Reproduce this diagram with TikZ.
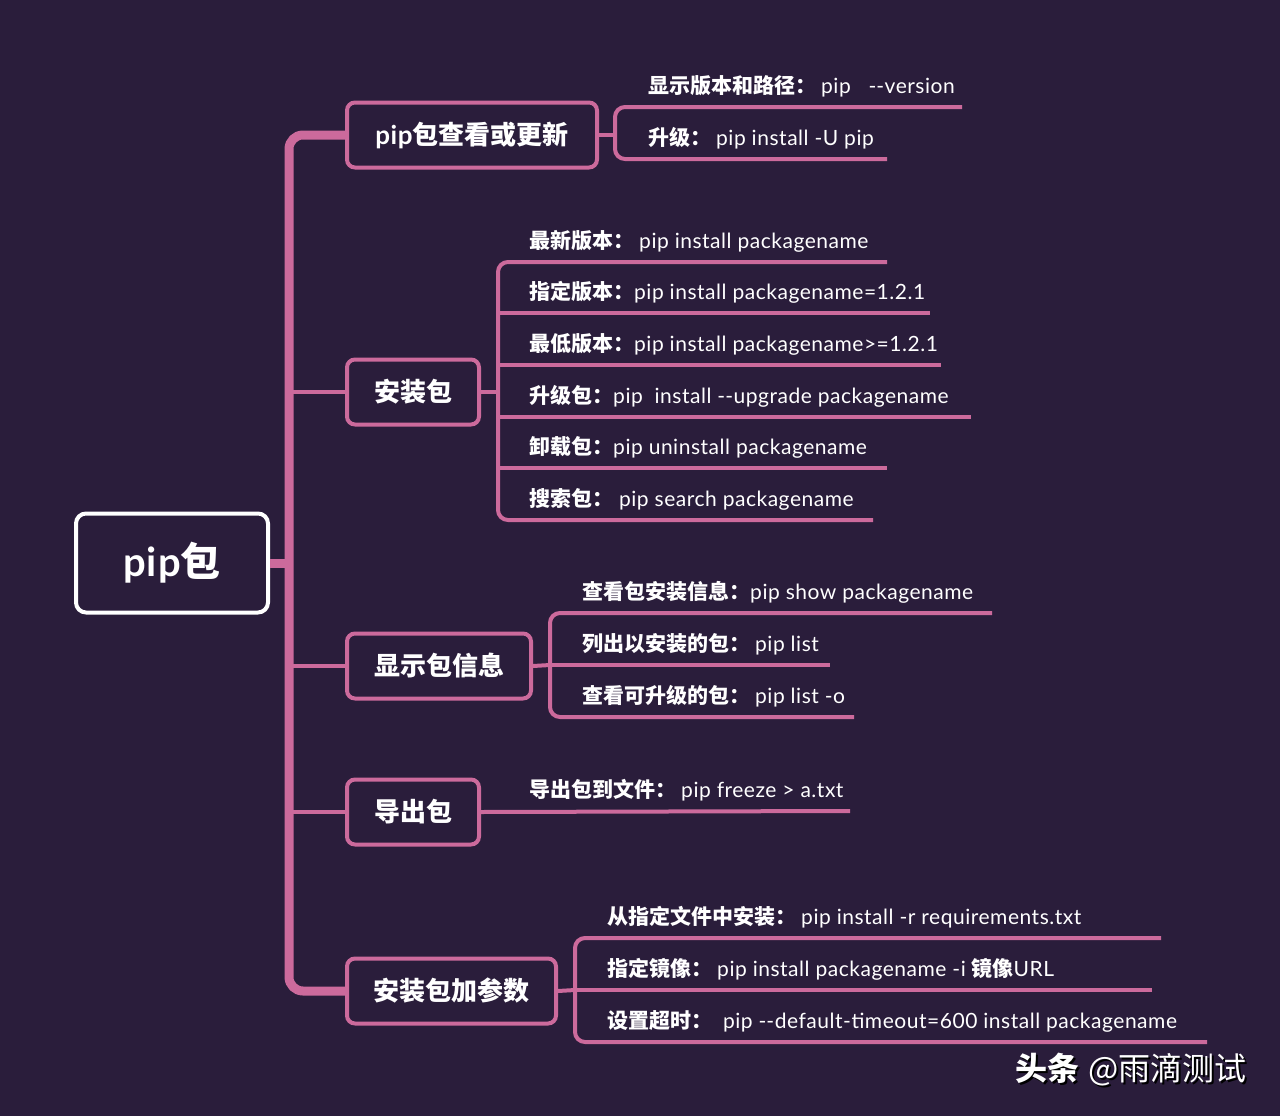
\documentclass[tikz,border=0pt]{standalone}
\usepackage{fontspec}
\setmainfont{Lato}[LetterSpace=2.5]
\newfontfamily\cjk{Noto Sans CJK SC}
\definecolor{bg}{HTML}{2A1D3B}
\definecolor{rose}{HTML}{CC6A9C}
\newcommand{\dd}{-\kern0pt-}
\newcommand{\gp}{\hspace{5pt}}

\begin{document}
\begin{tikzpicture}[x=1pt,y=-1pt,
  box/.style={draw=rose,line width=4pt,rounded corners=8pt,fill=bg,text=white,minimum height=65pt,inner xsep=0pt,font=\fontsize{26}{30}\selectfont\bfseries,anchor=west},
  rootbox/.style={draw=white,line width=4pt,rounded corners=10pt,fill=bg,text=white,minimum width=192pt,minimum height=99pt,font=\fontsize{40}{46}\selectfont\bfseries},
  leaf/.style={anchor=west,inner sep=0pt,text=white,font=\fontsize{21}{24}\selectfont},
  line/.style={draw=rose,line width=4pt,rounded corners=10pt},
  trunk/.style={draw=rose,line width=9pt,rounded corners=14pt}]
  \fill[bg] (0,0) rectangle (1280,1116);
  \useasboundingbox (0,0) rectangle (1280,1116);

  \node[rootbox] (root) at (172,563) {pip{\cjk 包}};

  \node[box,minimum width=250pt] (b1) at (345,135) {pip{\cjk 包查看或更新}};
  \node[box,minimum width=132pt] (b2) at (345,392) {\cjk 安装包};
  \node[box,minimum width=184pt] (b3) at (345,666) {\cjk 显示包信息};
  \node[box,minimum width=132pt] (b4) at (345,812) {\cjk 导出包};
  \node[box,minimum width=209pt] (b5) at (345,991) {\cjk 安装包加参数};

  \coordinate (t0) at (289,563);
  \coordinate (t1) at (289,135);
  \coordinate (t2) at (289,392);
  \coordinate (t3) at (289,666);
  \coordinate (t4) at (289,812);
  \coordinate (t5) at (289,991);

  \draw[trunk] (b1.west) -- (t1) -- (t5) -- (b5.west);
  \draw[trunk,rounded corners=0pt] (root.east) -- (t0);
  \draw[line] (t2) -- (b2.west);
  \draw[line] (t3) -- (b3.west);
  \draw[line] (t4) -- (b4.west);

  % pip包查看或更新
  \node[leaf] (l11) at (648,86) {{\cjk\bfseries 显示版本和路径：}\gp pip\ \ \ \dd version};
  \node[leaf] (l12) at (648,138) {{\cjk\bfseries 升级：}\gp pip install -U pip};
  \coordinate (v1) at (615,135);
  \coordinate (e11) at (962,107);
  \coordinate (e12) at (887,159);
  \draw[line] (e11) -- (615,107) -- (615,159) -- (e12);
  \draw[line] (b1.east) -- (v1);

  % 安装包
  \node[leaf] (l21) at (529,241) {{\cjk\bfseries 最新版本：}\gp pip install packagename};
  \node[leaf] (l22) at (529,292) {{\cjk\bfseries 指定版本：}pip install packagename=1.2.1};
  \node[leaf] (l23) at (529,344) {{\cjk\bfseries 最低版本：}pip install packagename>=1.2.1};
  \node[leaf] (l24) at (529,396) {{\cjk\bfseries 升级包：}pip\ \ install \dd upgrade packagename};
  \node[leaf] (l25) at (529,447) {{\cjk\bfseries 卸载包：}pip uninstall packagename};
  \node[leaf] (l26) at (529,499) {{\cjk\bfseries 搜索包：} pip search packagename};
  \coordinate (v2) at (498,392);
  \coordinate (e21) at (887,262);
  \coordinate (e22) at (930,313);
  \coordinate (e23) at (941,365);
  \coordinate (e24) at (971,417);
  \coordinate (e25) at (887,468);
  \coordinate (e26) at (873,520);
  \draw[line] (e21) -- (498,262) -- (498,520) -- (e26);
  \draw[line] (498,313) -- (e22);
  \draw[line] (498,365) -- (e23);
  \draw[line] (498,417) -- (e24);
  \draw[line] (498,468) -- (e25);
  \draw[line] (b2.east) -- (v2);

  % 显示包信息
  \node[leaf] (l31) at (582,592) {{\cjk\bfseries 查看包安装信息：}pip show packagename};
  \node[leaf] (l32) at (582,644) {{\cjk\bfseries 列出以安装的包：}\gp pip list};
  \node[leaf] (l33) at (582,696) {{\cjk\bfseries 查看可升级的包：}\gp pip list -o};
  \coordinate (v3) at (550,665);
  \coordinate (e31) at (992,613);
  \coordinate (e32) at (830,665);
  \coordinate (e33) at (854,717);
  \draw[line] (e31) -- (550,613) -- (550,717) -- (e33);
  \draw[line] (550,665) -- (e32);
  \draw[line] (b3.east) -- (v3);

  % 导出包
  \node[leaf] (l41) at (529,790) {{\cjk\bfseries 导出包到文件：}\gp pip freeze > a.txt};
  \coordinate (e41) at (850,811);
  \draw[line] (b4.east) -- (e41);

  % 安装包加参数
  \node[leaf] (l51) at (607,917) {{\cjk\bfseries 从指定文件中安装：}\gp pip install -r requirements.txt};
  \node[leaf] (l52) at (607,969) {{\cjk\bfseries 指定镜像：}\gp pip install packagename -i {\cjk\bfseries 镜像}URL};
  \node[leaf] (l53) at (607,1021) {{\cjk\bfseries 设置超时：}\gp\ pip \dd default-timeout=600 install packagename};
  \coordinate (v5) at (575,990);
  \coordinate (e51) at (1161,938);
  \coordinate (e52) at (1152,990);
  \coordinate (e53) at (1207,1042);
  \draw[line] (e51) -- (575,938) -- (575,1042) -- (e53);
  \draw[line] (575,990) -- (e52);
  \draw[line] (b5.east) -- (v5);

  \node[anchor=west,inner sep=0pt,text=black,font=\fontsize{32}{36}\selectfont] (wms) at (1017,1072) {{\cjk\bfseries 头条} {\cjk @雨滴测试}};
  \node[anchor=west,inner sep=0pt,text=white,font=\fontsize{32}{36}\selectfont] (wm) at (1015,1070) {{\cjk\bfseries 头条} {\cjk @雨滴测试}};
\end{tikzpicture}
\end{document}
